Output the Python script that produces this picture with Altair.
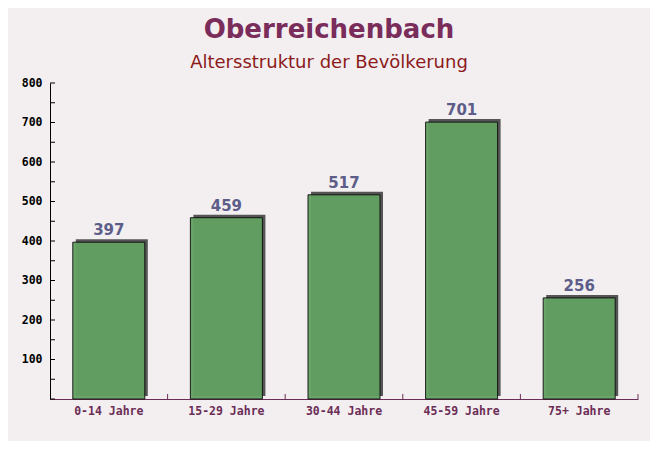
import altair as alt
import pandas as pd

title = "Oberreichenbach"
subtitle = "Altersstruktur der Bevölkerung"
categories = ["0-14 Jahre", "15-29 Jahre", "30-44 Jahre", "45-59 Jahre", "75+ Jahre"]
values = [397, 459, 517, 701, 256]
y_ticks = list(range(0, 801, 50))
y_labels = list(range(100, 801, 100))

df = pd.DataFrame({"cat": categories, "val": values})
ticks_df = pd.DataFrame({"t": y_ticks})
title_df = pd.DataFrame({"title": [title], "subtitle": [subtitle]})

xscale = alt.Scale(domain=categories, paddingInner=0, paddingOuter=0)
yscale = alt.Scale(domain=[0, 800], nice=False)

base = alt.Chart(df)

x_enc = alt.X("cat:N", scale=xscale, sort=categories,
              axis=alt.Axis(title=None, labelAngle=0, labelFont="DejaVu Sans Mono",
                            labelFontWeight="bold", labelFontSize=11.5, labelColor="#6b2d55",
                            labelPadding=6, ticks=False, domainColor="#6b2d55", domainWidth=1))
y_enc = alt.Y("val:Q", scale=yscale,
              axis=alt.Axis(title=None, values=y_labels, ticks=False, labelFont="DejaVu Sans Mono",
                            labelFontWeight="bold", labelFontSize=11.5, labelColor="#000000",
                            labelPadding=8, grid=False, domainColor="#000000", domainWidth=1))

shadow = base.mark_bar(size=72, color="#555555", xOffset=3, yOffset=-3, y2Offset=0).encode(
    x=x_enc, y=y_enc)
bars = base.mark_bar(size=72, color="#62a062", opacity=0.95, stroke="#111111", strokeWidth=1).encode(
    x=alt.X("cat:N", scale=xscale, sort=categories), y=alt.Y("val:Q", scale=yscale))
labels = base.mark_text(dy=-7, baseline="alphabetic", font="DejaVu Sans", fontWeight="bold",
                        fontSize=15, color="#5c5d88").encode(
    x=alt.X("cat:N", scale=xscale, sort=categories), y=alt.Y("val:Q", scale=yscale),
    text=alt.Text("val:Q"))

yticks = alt.Chart(ticks_df).mark_rule(color="#000000", strokeWidth=1).encode(
    y=alt.Y("t:Q", scale=yscale),
    x=alt.value(0),
    x2=alt.value(5))

xticks = base.mark_rule(color="#6b2d55", strokeWidth=1).encode(
    x=alt.X("cat:N", scale=xscale, sort=categories, bandPosition=1),
    y=alt.value(311), y2=alt.value(316))

title_mark = alt.Chart(title_df).mark_text(font="DejaVu Sans", fontWeight="bold", fontSize=26,
                                           color="#7a2c5a", baseline="middle").encode(
    x=alt.value(279), y=alt.value(-53), text="title:N")
subtitle_mark = alt.Chart(title_df).mark_text(font="DejaVu Sans", fontSize=18,
                                              color="#8c1a1a", baseline="middle").encode(
    x=alt.value(279), y=alt.value(-20), text="subtitle:N")

chart = alt.layer(shadow, bars, labels, yticks, xticks, title_mark, subtitle_mark).properties(
    width=588, height=316,
    autosize=alt.AutoSizeParams(type="none"),
    padding={"left": 42, "top": 75, "right": 12, "bottom": 42},
    background="#f3eff1",
).configure_view(stroke=None)

chart.save("out.html", embed_options={"renderer": "svg", "actions": False})
